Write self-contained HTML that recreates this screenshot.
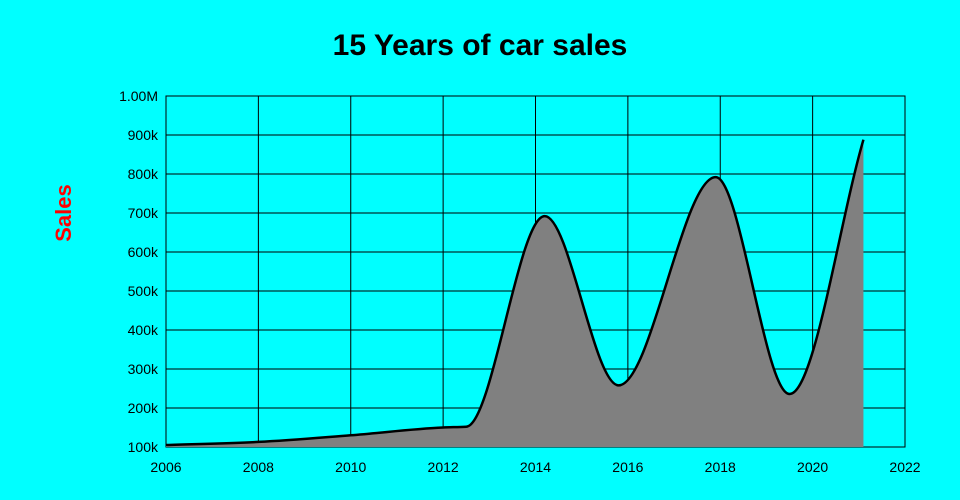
<!DOCTYPE html>
<html><head><meta charset="utf-8"><style>
html,body{margin:0;padding:0;background:#00ffff;}
svg{display:block;font-family:"Liberation Sans",sans-serif;}
</style></head><body>
<svg id="chart" width="960" height="500">
<rect width="960" height="500" fill="#00ffff"/>
<text x="480" y="55" text-anchor="middle" font-size="30" font-weight="bold" fill="#000">15 Years of car sales</text>
<text transform="translate(71,213) rotate(-90)" text-anchor="middle" font-size="22" font-weight="bold" fill="#ff0000">Sales</text>
<g id="grid"></g><g id="series"></g><g id="axes"></g>
</svg>
<script>
const years = [2006, 2008, 2010, 2012, 2012.5, 2014.2, 2015.8, 2017.9, 2019.5, 2021.1];
const sales = [105000, 113000, 130000, 150000, 152000, 692000, 258000, 792000, 236000, 888000];
const xTicks = [2006, 2008, 2010, 2012, 2014, 2016, 2018, 2020, 2022];
const yTicks = [100000, 200000, 300000, 400000, 500000, 600000, 700000, 800000, 900000, 1000000];
const yTickLabels = ["100k","200k","300k","400k","500k","600k","700k","800k","900k","1.00M"];

const L=166,R=905,T=96,B=447;
const x=v=>L+(v-2006)/(2022-2006)*(R-L);
const y=v=>B-(v-100000)/(1000000-100000)*(B-T);
const NS="http://www.w3.org/2000/svg";
function mk(tag,attrs,parent){const e=document.createElementNS(NS,tag);for(const k in attrs)e.setAttribute(k,attrs[k]);parent.appendChild(e);return e;}
const grid=document.getElementById('grid'),axes=document.getElementById('axes'),series=document.getElementById('series');
mk('rect',{x:L,y:T,width:R-L,height:B-T,fill:'none',stroke:'#000','stroke-width':1},grid);
xTicks.forEach(t=>{
  const l=mk('line',{x1:x(t),x2:x(t),y1:T,y2:B,stroke:'#000','stroke-width':1},grid);
  
  
  const tx=mk('text',{x:x(t),y:B+25,'text-anchor':'middle','font-size':14,fill:'#000'},axes);
  tx.textContent=t;
  
  
});
yTicks.forEach((t,i)=>{
  const l=mk('line',{x1:L,x2:R,y1:y(t),y2:y(t),stroke:'#000','stroke-width':1},grid);
  
  
  const tx=mk('text',{x:L-8,y:y(t)+5,'text-anchor':'end','font-size':14,fill:'#000'},axes);
  tx.textContent=yTickLabels[i];
  
  
});
// monotone cubic
const px=years.map(x),py=sales.map(y),n=px.length;
const d=[],m=[];
for(let i=0;i<n-1;i++)d.push((py[i+1]-py[i])/(px[i+1]-px[i]));
for(let i=0;i<n;i++){
  if(i===0)m.push(d[0]);else if(i===n-1)m.push(d[n-2]);
  else m.push(d[i-1]*d[i]<=0?0:(()=>{const h0=px[i]-px[i-1],h1=px[i+1]-px[i];return 3*(h0+h1)/((2*h1+h0)/d[i-1]+(h1+2*h0)/d[i]);})());
}
let path=`M${px[0]},${py[0]}`;
for(let i=0;i<n-1;i++){const h=(px[i+1]-px[i])/3;path+=` C${px[i]+h},${py[i]+m[i]*h} ${px[i+1]-h},${py[i+1]-m[i+1]*h} ${px[i+1]},${py[i+1]}`;}
const area=mk('path',{d:path+` L${px[n-1]},${B} L${px[0]},${B} Z`,fill:'#808080'},series);


const line=mk('path',{d:path,fill:'none',stroke:'#000','stroke-width':2.5},series);


</script>
</body></html>
